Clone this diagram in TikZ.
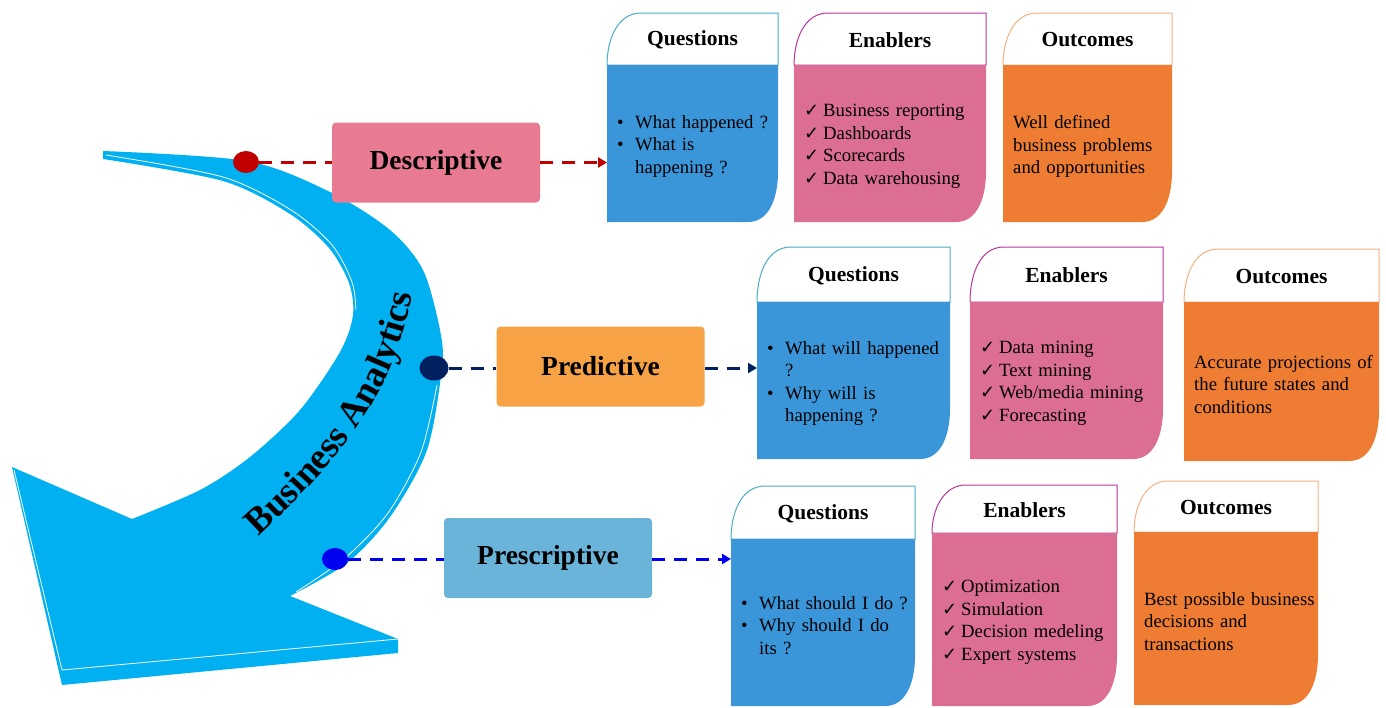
\documentclass[tikz,border=0pt]{standalone}
\usepackage{fontspec}
\setmainfont{Liberation Serif}
\newfontfamily\symfont{DejaVu Sans}
\usetikzlibrary{shapes.geometric,arrows.meta,decorations.text}

\definecolor{arrowblue}{HTML}{00B0F0}
\definecolor{descpink}{HTML}{E87B91}
\definecolor{predorange}{HTML}{F6A245}
\definecolor{prescblue}{HTML}{6AB4DA}
\definecolor{qfill}{HTML}{3B95D9}
\definecolor{qline}{HTML}{4BACC6}
\definecolor{efill}{HTML}{DC6E94}
\definecolor{eline}{HTML}{B8379A}
\definecolor{ofill}{HTML}{EE7D33}
\definecolor{oline}{HTML}{F4B183}
\definecolor{dotred}{HTML}{C00000}
\definecolor{dotnavy}{HTML}{002060}
\definecolor{dotblue}{HTML}{0000F0}

\newcommand\bitem{\makebox[18pt][l]{\textbullet}}
\newcommand\citem{\makebox[19pt][l]{{\symfont\fontsize{18}{18}\selectfont ✓}}}
\newcommand\indentq{\hspace*{18pt}}

% card: name, x1, top, x2, header bottom, bottom, colour prefix, title, body
\newcommand\card[9]{%
  \path[fill=white,draw=#7line,line width=1pt] (#2,#5) to[out=90,in=180] (#2+34,#3) -- (#4,#3) -- (#4,#5) -- cycle;
  \fill[#7fill] (#2,#5) -- (#4,#5) -- (#4,#6-50) to[out=-90,in=0] (#4-30,#6) -- (#2,#6) -- cycle;
  \node (#1t) [cardtitle] at ({(#2+#4)/2},{(#3+#5)/2+1}) {#8};
  \pgfmathsetmacro\cardw{#4-#2}
  \pgfmathsetmacro\cardh{#6-#5}
  \node (#1) [cardtext,text width=\cardw pt,minimum height=\cardh pt] at (#2,{(#5+#6)/2+3}) {#9};
}

\begin{document}
\begin{tikzpicture}[x=1pt,y=-1pt,
    stage/.style={rounded corners=4pt,minimum width=208pt,minimum height=80pt,inner sep=0pt,font=\bfseries\fontsize{27.5}{30}\selectfont},
    cardtitle/.style={inner sep=0pt,font=\bfseries\fontsize{21.5}{24}\selectfont},
    cardtext/.style={anchor=west,inner xsep=10pt,inner ysep=0pt,align=left,font=\fontsize{18.7}{22.6}\selectfont},
    link/.style={dash pattern=on 13pt off 9pt,line width=3pt}]
    \useasboundingbox (0,0) rectangle (1386,707);

    % big curved arrow
    \fill[arrowblue] plot[smooth] coordinates {(103,151) (247,161) (330,192) (390,230) (423,270) (440,330) (442,367) (427,450) (390,517) (347,563) (290,596)}
        -- (398,639) -- (398,653) -- (62,685) -- (12,467)
        -- plot[smooth] coordinates {(132,519) (200,490) (250,457) (300,410) (340,352) (353,315) (349,283) (329,248) (290,214) (223,181) (103,159)} -- cycle;
    \draw[white,line width=0.8pt] plot[smooth] coordinates {(296,592) (345,558) (388,513) (421,452) (437,385)};
    \draw[white,line width=0.8pt] plot[smooth] coordinates {(106,155) (223,177) (291,210) (332,245) (352,282) (356,310)};
    \draw[white,line width=0.8pt] (14,470) -- (62,670) -- (398,639);

    \path[decorate,decoration={text along path,text align=center,
        text={|\bfseries\fontsize{37}{37}\selectfont|Business Analytics}}]
        (244,550) .. controls (316,482) and (397,410) .. (416,275);

    \begin{scope}[every node/.style={ellipse,minimum width=26pt,minimum height=22pt,inner sep=0pt}]
        \node (rdot) [fill=dotred] at (246,162) {};
        \node (ndot) [fill=dotnavy,minimum width=29pt,minimum height=25pt] at (434,368) {};
        \node (bdot) [fill=dotblue] at (335,559) {};
    \end{scope}

    \node (desc) [stage,fill=descpink] at (436,162.5) {Descriptive};
    \node (pred) [stage,fill=predorange] at (600.5,366.5) {Predictive};
    \node (presc) [stage,fill=prescblue] at (548,558) {Prescriptive};

    \card{q1}{607}{13}{778}{65}{222}{q}{Questions}{\bitem What happened ?\\\bitem What is\\\indentq happening ?}
    \card{e1}{794}{13}{986}{65}{222}{e}{Enablers}{\citem Business reporting\\\citem Dashboards\\\citem Scorecards\\\citem Data warehousing}
    \card{o1}{1003}{13}{1172}{65}{222}{o}{Outcomes}{Well defined\\business problems\\and opportunities}

    \card{q2}{757}{247}{950}{302}{459}{q}{Questions}{\bitem What will happened\\\indentq ?\\\bitem Why will is\\\indentq happening ?}
    \card{e2}{970}{247}{1163}{302}{459}{e}{Enablers}{\citem Data mining\\\citem Text mining\\\citem Web/media mining\\\citem Forecasting}
    \card{o2}{1184}{249}{1379}{302}{461}{o}{Outcomes}{Accurate projections of\\the future states and\\conditions}

    \card{q3}{731}{486}{915}{539}{706}{q}{Questions}{\bitem What should I do ?\\\bitem Why should I do\\\indentq its ?}
    \card{e3}{932}{485}{1117}{533}{706}{e}{Enablers}{\citem Optimization\\\citem Simulation\\\citem Decision medeling\\\citem Expert systems\\[7pt]}
    \card{o3}{1134}{481}{1318}{532}{705}{o}{Outcomes}{Best possible business\\decisions and\\transactions}

    \begin{scope}[every edge/.style={draw,link}]
        \path
            (rdot) edge [dotred] (rdot -| desc.west)
            (desc.east) edge [dotred,-{Triangle[length=9pt,width=10pt]}] (desc.east -| q1.west)
            (ndot) edge [dotnavy] (ndot -| pred.west)
            (pred.east |- ndot) edge [dotnavy,-{Triangle[length=9pt,width=10pt]}] (ndot -| q2.west)
            (bdot) edge [dotblue] (bdot -| presc.west)
            (presc.east |- bdot) edge [dotblue,-{Triangle[length=9pt,width=10pt]}] (bdot -| q3.west);
    \end{scope}
\end{tikzpicture}
\end{document}
